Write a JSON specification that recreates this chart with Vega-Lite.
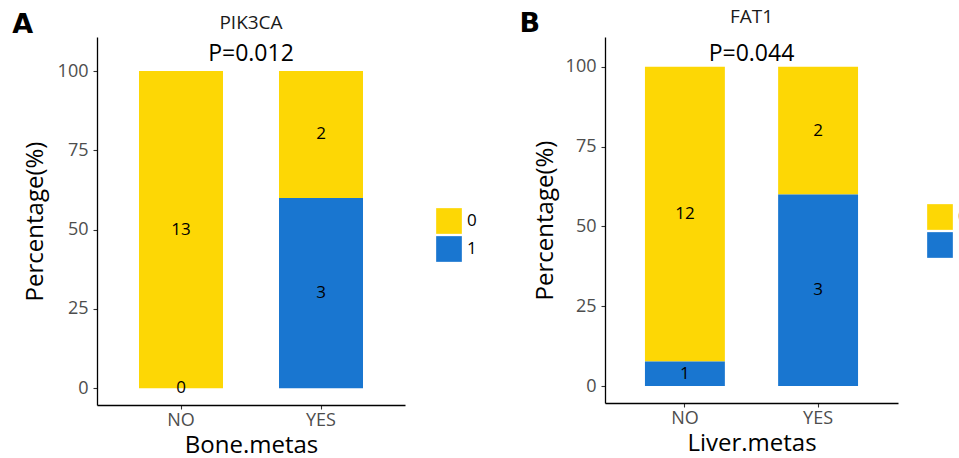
{
  "$schema": "https://vega.github.io/schema/vega-lite/v6.json",
  "background": "white",
  "padding": {"left": 12, "top": 8, "right": 0, "bottom": 0},
  "spacing": 42,
  "resolve": {"scale": {"color": "independent"}, "legend": {"color": "independent"}},
  "config": {
    "font": "Open Sans",
    "view": {"stroke": null},
    "axis": {"grid": false, "domainColor": "black", "domainWidth": 1.3, "tickColor": "#333333", "tickSize": 4, "tickWidth": 1.1,
      "labelFont": "Open Sans", "labelFontSize": 18, "labelColor": "#4D4D4D",
      "titleFont": "Open Sans", "titleFontSize": 24, "titleFontWeight": "normal", "titleColor": "black"},
    "axisX": {"labelAngle": 0, "labelPadding": 2, "titlePadding": 4},
    "axisY": {"labelPadding": 5, "titlePadding": 8},
    "legend": {"padding": 0, "symbolType": "square", "symbolSize": 660, "symbolStrokeWidth": 0, "symbolOpacity": 1,
      "labelFont": "Open Sans", "labelFontSize": 17, "labelColor": "black", "labelOffset": 5, "rowPadding": 2},
    "title": {"font": "Open Sans", "fontSize": 19, "fontWeight": "normal", "color": "#1a1a1a",
      "subtitleFont": "Open Sans", "subtitleFontSize": 23, "subtitleColor": "black", "subtitlePadding": 10, "offset": -29, "anchor": "middle"}
  },
  "hconcat": [
    {
      "title": {"text": "A", "orient": "left", "anchor": "end", "angle": 0, "align": "left", "baseline": "top",
        "font": "DejaVu Sans", "fontSize": 27, "fontWeight": "bold", "color": "black", "offset": -10, "dy": -2, "subtitle": null},
      "resolve": {"scale": {"color": "independent"}, "legend": {"color": "independent"}},
      "vconcat": [
        {
          "title": {"text": "PIK3CA", "subtitle": "P=0.012", "offset": -29, "subtitlePadding": 10},
          "width": 308,
          "height": 368,
          "data": {"values": [
            {"metas": "NO", "mut": "0", "n": 13, "pct": 100},
            {"metas": "NO", "mut": "1", "n": 0, "pct": 0},
            {"metas": "YES", "mut": "0", "n": 2, "pct": 40},
            {"metas": "YES", "mut": "1", "n": 3, "pct": 60}
          ]},
          "encoding": {
            "x": {"field": "metas", "type": "nominal", "title": "Bone.metas",
              "scale": {"paddingInner": 0.4, "paddingOuter": 0.3}}
          },
          "layer": [
            {
              "mark": {"type": "bar"},
              "encoding": {
                "y": {"field": "pct", "type": "quantitative", "stack": "zero", "title": "Percentage(%)",
                  "scale": {"domain": [-5.26, 110.72], "nice": false, "zero": false},
                  "axis": {"values": [0, 25, 50, 75, 100], "titlePadding": 10}},
                "color": {"field": "mut", "type": "nominal",
                  "scale": {"domain": ["0", "1"], "range": ["#FDD705", "#1976D0"]},
                  "legend": {"title": null, "orient": "none", "legendX": 339, "legendY": 171}},
                "order": {"field": "mut", "sort": "descending"}
              }
            },
            {
              "transform": [
                {"stack": "pct", "groupby": ["metas"], "sort": [{"field": "mut", "order": "descending"}], "as": ["y0", "y1"]},
                {"fold": ["y0", "y1"], "as": ["edge", "v"]},
                {"aggregate": [{"op": "mean", "field": "v", "as": "mid"}], "groupby": ["metas", "mut", "n"]}
              ],
              "mark": {"type": "text", "fontSize": 17, "color": "black", "baseline": "middle"},
              "encoding": {
                "y": {"field": "mid", "type": "quantitative"},
                "text": {"field": "n", "type": "quantitative"}
              }
            }
          ]
        }
      ]
    },
    {
      "title": {"text": "B", "orient": "left", "anchor": "end", "angle": 0, "align": "left", "baseline": "top",
        "font": "DejaVu Sans", "fontSize": 27, "fontWeight": "bold", "color": "black", "offset": -7, "dy": 3, "subtitle": null},
      "resolve": {"scale": {"color": "independent"}, "legend": {"color": "independent"}},
      "vconcat": [
        {
          "title": {"text": "FAT1", "subtitle": "P=0.044", "offset": -29, "subtitlePadding": 16},
          "width": 293,
          "height": 366,
          "data": {"values": [
            {"metas": "NO", "mut": "0", "n": 12, "pct": 92.31},
            {"metas": "NO", "mut": "1", "n": 1, "pct": 7.69},
            {"metas": "YES", "mut": "0", "n": 2, "pct": 40},
            {"metas": "YES", "mut": "1", "n": 3, "pct": 60}
          ]},
          "encoding": {
            "x": {"field": "metas", "type": "nominal", "title": "Liver.metas",
              "scale": {"paddingInner": 0.4, "paddingOuter": 0.3}}
          },
          "layer": [
            {
              "mark": {"type": "bar"},
              "encoding": {
                "y": {"field": "pct", "type": "quantitative", "stack": "zero", "title": "Percentage(%)",
                  "scale": {"domain": [-5.32, 109.3], "nice": false, "zero": false},
                  "axis": {"values": [0, 25, 50, 75, 100]}},
                "color": {"field": "mut", "type": "nominal",
                  "scale": {"domain": ["0", "1"], "range": ["#FDD705", "#1976D0"]},
                  "legend": {"title": null, "orient": "none", "legendX": 322, "legendY": 167}},
                "order": {"field": "mut", "sort": "descending"}
              }
            },
            {
              "transform": [
                {"stack": "pct", "groupby": ["metas"], "sort": [{"field": "mut", "order": "descending"}], "as": ["y0", "y1"]},
                {"fold": ["y0", "y1"], "as": ["edge", "v"]},
                {"aggregate": [{"op": "mean", "field": "v", "as": "mid"}], "groupby": ["metas", "mut", "n"]}
              ],
              "mark": {"type": "text", "fontSize": 17, "color": "black", "baseline": "middle"},
              "encoding": {
                "y": {"field": "mid", "type": "quantitative"},
                "text": {"field": "n", "type": "quantitative"}
              }
            }
          ]
        }
      ]
    }
  ]
}
